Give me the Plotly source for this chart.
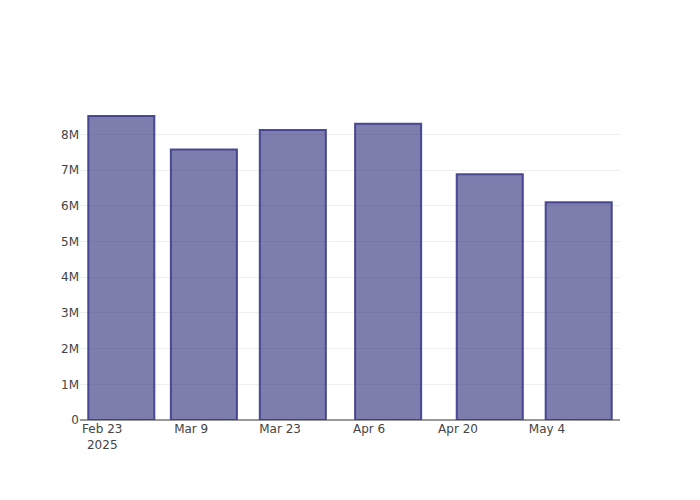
import plotly.graph_objects as go

dates = ["2025-02-26", "2025-03-11", "2025-03-25", "2025-04-09", "2025-04-25", "2025-05-09"]
values = [8520000, 7580000, 8130000, 8300000, 6890000, 6100000]

fig = go.Figure(
    go.Bar(
        x=dates,
        y=values,
        marker=dict(
            color="rgba(40,40,120,0.6)",
            line=dict(color="rgba(60,60,140,0.9)", width=2),
        ),
    )
)

fig.update_layout(
    template="none",
    width=700,
    height=500,
    paper_bgcolor="white",
    plot_bgcolor="white",
    font=dict(family="DejaVu Sans, Verdana, sans-serif", color="#444", size=12),
    margin=dict(l=80, r=80, t=100, b=80),
    showlegend=False,
)
fig.update_xaxes(type="date", showgrid=False, zeroline=False,
                 showline=False, ticks="")
fig.update_yaxes(showgrid=True, gridcolor="#eee", zeroline=True,
                 zerolinecolor="#999", zerolinewidth=2, ticks="",
                 dtick=1000000)

fig.write_html("out.html", config={"displayModeBar": False},
               post_script="document.body.style.margin='0px';")
